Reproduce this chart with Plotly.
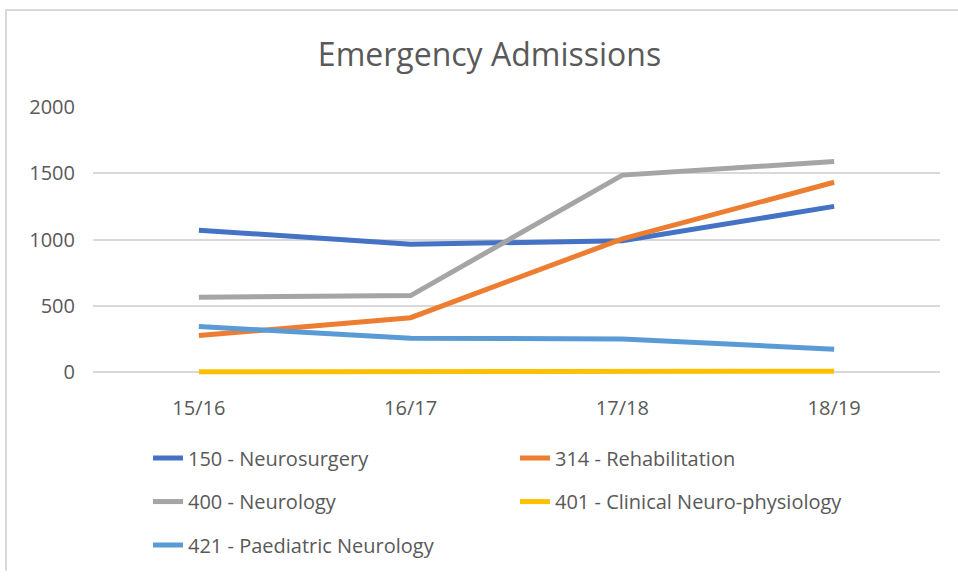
import plotly.graph_objects as go

categories = ["15/16", "16/17", "17/18", "18/19"]
neurosurgery = [1070, 965, 990, 1250]
rehabilitation = [275, 410, 1005, 1432]
neurology = [565, 577, 1486, 1588]
clinical_neuro = [2, 6, 3, 6]
paediatric = [343, 255, 250, 172]
y_ticks = [0, 500, 1000, 1500, 2000]

series = [
    ("150 - Neurosurgery", neurosurgery, "#4472C4", "legend"),
    ("314 - Rehabilitation", rehabilitation, "#ED7D31", "legend"),
    ("400 - Neurology", neurology, "#A5A5A5", "legend2"),
    ("401 - Clinical Neuro-physiology", clinical_neuro, "#FFC000", "legend2"),
    ("421 - Paediatric Neurology", paediatric, "#5B9BD5", "legend3"),
]

FONT = "Open Sans"
TXT = "#595959"

fig = go.Figure()
for name, vals, col, lg in series:
    fig.add_trace(go.Scatter(
        x=categories, y=vals, name=name, mode="lines",
        line=dict(color=col, width=5), cliponaxis=False, legend=lg,
    ))

W, H = 958, 576
L, R, T, B = 93, 940, 107, 375      # plot: x extents, y of 2000 and y of 0
YMIN = -30
ph = B - T
bottom = B + (-YMIN) * ph / 2000.0
pw = R - L
plot_h = bottom - T

def px(x):
    return (x - L) / pw

def py(y):
    return (bottom - y) / plot_h

leg_common = dict(orientation="h", xanchor="left", yanchor="middle",
                  font=dict(family=FONT, size=20, color=TXT),
                  entrywidth=322, entrywidthmode="pixels",
                  itemwidth=30, bgcolor="rgba(0,0,0,0)")

fig.update_layout(
    width=W, height=H,
    margin=dict(l=L, r=W - R, t=T, b=H - bottom, pad=0),
    paper_bgcolor="white", plot_bgcolor="white",
    font=dict(family=FONT, color=TXT),
    title=dict(text="Emergency Admissions", x=489.5 / W, xanchor="center",
               y=1 - 55 / H, yanchor="middle",
               font=dict(family=FONT, size=32, color=TXT)),
    xaxis=dict(type="category", range=[-0.5, 3.5], showgrid=False,
               showline=False, zeroline=False, ticks="",
               tickfont=dict(family=FONT, size=20, color=TXT),
               ticklabelstandoff=18),
    yaxis=dict(range=[YMIN, 2000], tickvals=y_ticks, showgrid=True,
               gridcolor="#D9D9D9", gridwidth=1.5, zeroline=False,
               showline=False, ticks="",
               tickfont=dict(family=FONT, size=20, color=TXT),
               ticklabelstandoff=17),
    legend=dict(x=px(148), y=py(462), **leg_common),
    legend2=dict(x=px(148), y=py(506), **leg_common),
    legend3=dict(x=px(148), y=py(550), **leg_common),
    shapes=[
        dict(type="line", xref="paper", yref="paper",
             x0=px(5), x1=px(958), y0=py(9), y1=py(9),
             line=dict(color="#D9D9D9", width=2)),
        dict(type="line", xref="paper", yref="paper",
             x0=px(6), x1=px(6), y0=py(9), y1=py(576),
             line=dict(color="#D9D9D9", width=2)),
    ],
)

fig.write_html("out.html", config={"displayModeBar": False},
               post_script="document.body.style.margin='0';")
